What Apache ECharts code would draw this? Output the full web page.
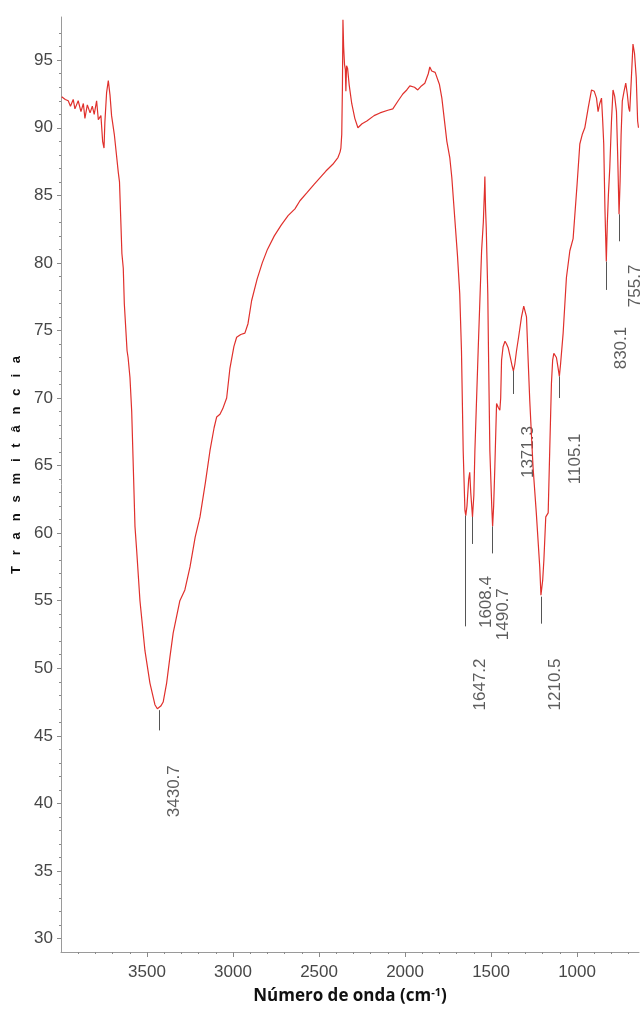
<!DOCTYPE html>
<html>
<head>
<meta charset="utf-8">
<script src="https://cdn.jsdelivr.net/npm/echarts@6/dist/echarts.min.js"></script>
<style>
  html, body { margin: 0; padding: 0; background: #fff; }
  #chart { width: 641px; height: 1009px; }
</style>
</head>
<body>
<div id="chart"></div>
<script>
// espectro FTIR - numero de onda (cm-1) e transmitancia (%)
var waveNumber = [
  3996, 3975, 3958, 3945, 3929, 3919, 3900, 3884, 3870, 3861, 3847, 3831, 3818, 3807, 3793, 3783,
  3768, 3758, 3750, 3745, 3735, 3725, 3715, 3706, 3696, 3690, 3676, 3667, 3660, 3652, 3646, 3638,
  3632, 3616, 3610, 3599, 3589, 3580, 3570, 3560, 3541, 3512, 3483, 3454, 3440, 3431, 3420, 3406,
  3386, 3367, 3348, 3309, 3280, 3250, 3220, 3192, 3160, 3134, 3110, 3095, 3076, 3060, 3037, 3018,
  2995, 2979, 2955, 2931, 2913, 2892, 2860, 2830, 2800, 2760, 2720, 2680, 2640, 2611, 2570, 2530,
  2495, 2460, 2420, 2390, 2378, 2373, 2368, 2364, 2361, 2357, 2352, 2347, 2344, 2340, 2334, 2325,
  2310, 2292, 2274, 2250, 2222, 2180, 2146, 2100, 2071, 2040, 2013, 1990, 1972, 1945, 1926, 1905,
  1885, 1865, 1856, 1845, 1838, 1825, 1815, 1800, 1786, 1757, 1740, 1728, 1711, 1695, 1682, 1672,
  1662, 1652, 1647, 1640, 1630, 1624, 1618, 1608, 1600, 1594, 1575, 1555, 1545, 1538, 1536, 1532,
  1528, 1519, 1515, 1507, 1496, 1491, 1485, 1478, 1468, 1458, 1449, 1444, 1439, 1430, 1419, 1410,
  1400, 1388, 1378, 1370, 1362, 1352, 1340, 1323, 1310, 1304, 1294, 1285, 1275, 1256, 1237, 1217,
  1210, 1205, 1200, 1193, 1182, 1168, 1159, 1149, 1142, 1135, 1127, 1120, 1110, 1103, 1096, 1081,
  1062, 1042, 1023, 1000, 984, 970, 955, 935, 916, 900, 887, 878, 868, 858, 851, 845,
  838, 830, 824, 818, 810, 800, 791, 781, 771, 764, 756, 750, 744, 737, 727, 717,
  708, 700, 694, 685, 675, 666, 656, 648, 643
];
var transmittance = [
  92.3, 92.1, 92.0, 91.6, 92.1, 91.4, 92.0, 91.2, 91.8, 90.7, 91.7, 91.1, 91.6, 91.0, 92.0, 90.6,
  90.9, 89.0, 88.5, 90.4, 92.6, 93.5, 92.4, 90.9, 91.0, 89.5, 87.8, 86.7, 86.0, 83.0, 80.7, 79.6,
  77.0, 73.5, 73.0, 71.5, 69.0, 65.0, 60.5, 58.7, 55.0, 51.3, 48.9, 47.3, 47.0, 46.9, 47.2, 47.5,
  48.9, 50.8, 52.6, 55.0, 55.8, 57.5, 59.7, 61.2, 63.8, 66.1, 67.8, 68.6, 68.8, 69.2, 70.0, 72.2,
  73.8, 74.5, 74.7, 74.8, 75.5, 77.2, 78.8, 80.0, 81.0, 82.0, 82.8, 83.5, 84.0, 84.6, 85.2, 85.8,
  86.3, 86.8, 87.3, 87.8, 88.2, 88.5, 89.5, 93.0, 98.0, 96.0, 94.7, 94.3, 92.7, 94.6, 94.4, 93.2,
  91.8, 90.7, 90.0, 90.3, 90.5, 90.9, 91.1, 91.3, 91.4, 92.0, 92.5, 92.8, 93.1, 93.0, 92.8, 93.1,
  93.3, 94.0, 94.5, 94.2, 94.3, 94.1, 94.0, 93.2, 92.2, 89.0, 87.8, 86.3, 83.3, 80.5, 77.7, 73.5,
  66.1, 61.7, 61.3, 62.0, 64.0, 64.5, 63.0, 61.2, 62.8, 66.1, 73.5, 80.9, 83.0, 85.5, 86.4, 84.0,
  82.6, 77.7, 73.5, 66.1, 62.0, 60.5, 62.0, 64.9, 69.6, 69.3, 69.1, 70.0, 72.8, 73.8, 74.2, 74.0,
  73.7, 73.0, 72.4, 72.0, 72.5, 73.5, 74.5, 76.0, 76.8, 76.8, 76.0, 73.0, 69.8, 64.9, 61.5, 57.5,
  55.4, 55.3, 56.5, 58.0, 61.2, 61.5, 66.1, 71.1, 72.8, 73.3, 73.2, 73.0, 72.2, 71.6, 72.5, 74.8,
  78.9, 80.9, 81.8, 85.8, 88.8, 89.5, 90.0, 91.5, 92.8, 92.7, 92.2, 91.2, 91.8, 92.2, 90.5, 88.8,
  84.0, 80.1, 83.0, 85.0, 87.0, 90.5, 92.8, 92.3, 91.2, 88.0, 83.6, 86.0, 89.5, 92.0, 92.7, 93.3,
  92.5, 91.5, 91.2, 93.5, 96.2, 95.5, 93.7, 90.5, 90.0
];

// picos marcados: posicao, inicio e fim do traco
var peakNames = ['3430.7', '1647.2', '1608.4', '1490.7', '1371.3', '1210.5', '1105.1', '830.1', '755.7'];
var peakX = [3430.7, 1647.2, 1608.4, 1490.7, 1371.3, 1210.5, 1105.1, 830.1, 755.7];
var peakTop = [46.9, 61.3, 61.2, 60.5, 72.0, 55.3, 71.6, 80.1, 83.6];
var peakBottom = [45.4, 53.1, 59.2, 58.5, 70.3, 53.3, 70.0, 78.0, 81.6];
// onde fica o rotulo de cada pico
var labelX = [3343, 1565, 1525, 1426, 1286, 1124, 1013, 740, 660];
var labelY = [40.9, 48.8, 54.9, 54.0, 66.0, 48.8, 65.5, 73.7, 78.3];

// ticks
var xMajor = [1000, 1500, 2000, 2500, 3000, 3500];
var xMinor = [700, 800, 900, 1100, 1200, 1300, 1400, 1600, 1700, 1800, 1900, 2100, 2200, 2300, 2400,
  2600, 2700, 2800, 2900, 3100, 3200, 3300, 3400, 3600, 3700, 3800, 3900];
var yMajor = [30, 35, 40, 45, 50, 55, 60, 65, 70, 75, 80, 85, 90, 95];
var yMinor = [31, 32, 33, 34, 36, 37, 38, 39, 41, 42, 43, 44, 46, 47, 48, 49, 51, 52, 53, 54, 56, 57,
  58, 59, 61, 62, 63, 64, 66, 67, 68, 69, 71, 72, 73, 74, 76, 77, 78, 79, 81, 82, 83, 84, 86, 87,
  88, 89, 91, 92, 93, 94, 96, 97];

var spectrum = waveNumber.map(function (w, i) { return [w, transmittance[i]]; });

var chart = echarts.init(document.getElementById('chart'));

var tickFont = { color: '#474747', fontSize: 17, fontFamily: 'Liberation Sans, Arial, sans-serif' };
var plain = function (v) { return String(v); };

var option = {
  animation: false,
  backgroundColor: '#fff',
  grid: { left: 61, right: 2, top: 17, bottom: 57, outerBoundsMode: 'none' },
  // titulo do eixo y (fica um pouco acima do meio)
  graphic: [
    {
      type: 'text',
      x: 16,
      y: 465,
      rotation: Math.PI / 2,
      style: {
        text: 'T   r   a   n   s   m   i   t   â   n   c   i   a',
        fontSize: 13,
        fontWeight: 'bold',
        fill: '#111',
        fontFamily: 'Liberation Sans, Arial, sans-serif',
        align: 'center',
        verticalAlign: 'middle'
      }
    }
  ],
  xAxis: [
    {
      type: 'value',
      min: 640,
      max: 4000,
      inverse: true,
      splitLine: { show: false },
      axisLine: { lineStyle: { color: '#9a9a9a', width: 1 } },
      axisTick: { customValues: xMajor, length: 5, lineStyle: { color: '#8a8a8a' } },
      axisLabel: Object.assign({ customValues: xMajor, margin: 12, formatter: plain }, tickFont),
      name: '{a|Número de onda (cm}{s|-1}{a|)}',
      nameLocation: 'middle',
      nameGap: 35,
      nameTextStyle: {
        rich: {
          a: { fontSize: 17, fontWeight: 'bold', color: '#111', fontFamily: 'Open Sans, sans-serif' },
          s: { fontSize: 11, fontWeight: 'bold', color: '#111', fontFamily: 'Open Sans, sans-serif', verticalAlign: 'top', padding: [0, 0, 8, 0] }
        }
      }
    },
    {
      type: 'value',
      min: 640,
      max: 4000,
      inverse: true,
      position: 'bottom',
      splitLine: { show: false },
      axisLine: { show: false },
      axisTick: { customValues: xMinor, length: 2, lineStyle: { color: '#8a8a8a' } },
      axisLabel: { show: false }
    }
  ],
  yAxis: [
    {
      type: 'value',
      min: 29,
      max: 98.2,
      splitLine: { show: false },
      axisLine: { show: true, lineStyle: { color: '#9a9a9a', width: 1 } },
      axisTick: { customValues: yMajor, length: 4, lineStyle: { color: '#8a8a8a' } },
      axisLabel: Object.assign({ customValues: yMajor, margin: 8, formatter: plain }, tickFont)
    },
    {
      type: 'value',
      min: 29,
      max: 98.2,
      position: 'left',
      splitLine: { show: false },
      axisLine: { show: false },
      axisTick: { customValues: yMinor, length: 2, lineStyle: { color: '#8a8a8a' } },
      axisLabel: { show: false }
    }
  ],
  series: [
    {
      type: 'line',
      data: spectrum,
      showSymbol: false,
      symbol: 'none',
      lineStyle: { color: '#e0302c', width: 1.2 },
      markLine: {
        silent: true,
        symbol: ['none', 'none'],
        label: { show: false },
        lineStyle: { color: '#555', width: 1, type: 'solid' },
        data: peakX.map(function (p, i) {
          return [{ coord: [p, peakTop[i]] }, { coord: [p, peakBottom[i]] }];
        })
      }
    },
    {
      type: 'scatter',
      symbolSize: 0,
      silent: true,
      data: peakNames.map(function (n, i) {
        return { name: n, value: [labelX[i], labelY[i]] };
      }),
      label: {
        show: true,
        position: 'inside',
        rotate: 90,
        formatter: '{b}',
        color: '#333',
        fontSize: 17,
        fontFamily: 'Liberation Sans, Arial, sans-serif'
      }
    }
  ]
};

chart.setOption(option);
</script>
</body>
</html>
